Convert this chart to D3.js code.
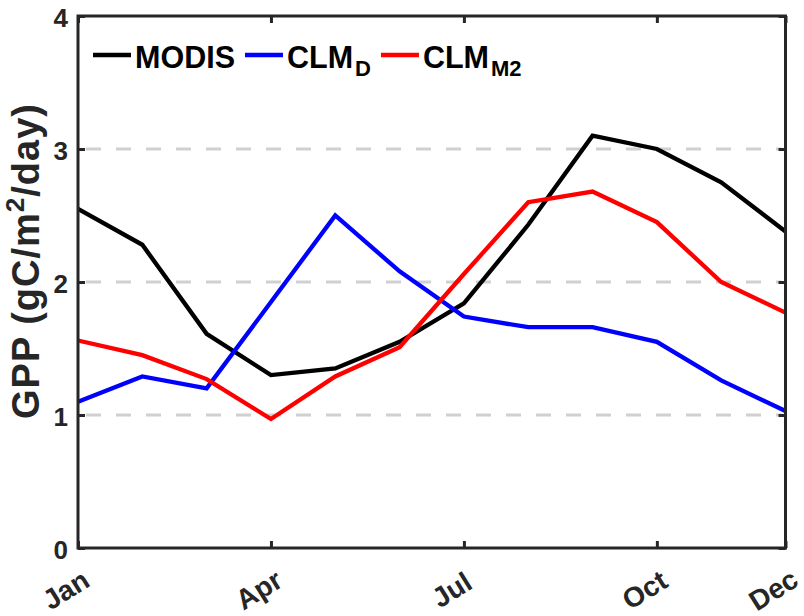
<!DOCTYPE html>
<html>
<head>
<meta charset="utf-8">
<script src="https://cdn.jsdelivr.net/npm/d3@7"></script>
<style>
  html, body { margin: 0; padding: 0; background: #fff; }
  text { font-family: "Liberation Sans", Arial, Helvetica, sans-serif; font-weight: bold; }
</style>
</head>
<body>
<svg id="chart" width="804" height="616"></svg>
<script>
const months = ["Jan","Feb","Mar","Apr","May","Jun","Jul","Aug","Sep","Oct","Nov","Dec"];
const tickMonths = ["Jan","Apr","Jul","Oct","Dec"];
const yTicks = [0, 1, 2, 3, 4];
const gridValues = [1, 2, 3];
const modis = [2.55, 2.28, 1.61, 1.30, 1.35, 1.55, 1.84, 2.43, 3.10, 3.00, 2.75, 2.38];
const clmD  = [1.10, 1.29, 1.20, 1.85, 2.50, 2.08, 1.74, 1.66, 1.66, 1.55, 1.26, 1.03];
const clmM2 = [1.56, 1.45, 1.27, 0.97, 1.29, 1.51, 2.06, 2.60, 2.68, 2.45, 2.00, 1.77];
const seriesNames = ["MODIS", "CLM", "CLM"];
const seriesSubs = ["", "D", "M2"];
const seriesColors = ["#000000", "#0000ff", "#ff0000"];

const svg = d3.select("#chart");
const L = 78, R = 785.5, T = 16, B = 548;
const axisColor = "#262626";

const x = d3.scalePoint().domain(months).range([L, R]);
const y = d3.scaleLinear().domain([0, 4]).range([B, T]);

// grid
svg.append("g").selectAll("line").data(gridValues).join("line")
  .attr("x1", L + 8).attr("x2", R - 4)
  .attr("y1", d => y(d)).attr("y2", d => y(d))
  .attr("stroke", "#d0d0d0").attr("stroke-width", 3)
  .attr("stroke-dasharray", "15,15");

// lines
const line = d3.line().x((d, i) => x(months[i])).y(d => y(d));
const allSeries = [modis, clmD, clmM2];
allSeries.forEach((s, k) => {
  svg.append("path").datum(s)
    .attr("d", line).attr("fill", "none")
    .attr("stroke", seriesColors[k]).attr("stroke-width", 4.3)
    .attr("stroke-linejoin", "miter");
});

// axes (ticks inward, mirrored)
const tl = 7;
const xb = svg.append("g").attr("transform", `translate(0,${B})`)
  .call(d3.axisBottom(x).tickValues(tickMonths).tickSize(-tl).tickFormat(""));
const xt = svg.append("g").attr("transform", `translate(0,${T})`)
  .call(d3.axisTop(x).tickValues(tickMonths).tickSize(-tl).tickFormat(""));
const yl = svg.append("g").attr("transform", `translate(${L},0)`)
  .call(d3.axisLeft(y).tickValues(yTicks).tickSize(-tl).tickFormat(""));
const yr = svg.append("g").attr("transform", `translate(${R},0)`)
  .call(d3.axisRight(y).tickValues(yTicks).tickSize(-tl).tickFormat(""));
[xb, xt, yl, yr].forEach(g => {
  g.select(".domain").remove();
  g.selectAll(".tick line").attr("stroke", axisColor).attr("stroke-width", 3);
});

// frame
svg.append("rect").attr("x", L).attr("y", T).attr("width", R - L).attr("height", B - T)
  .attr("fill", "none").attr("stroke", axisColor).attr("stroke-width", 3);

// y tick labels
svg.append("g").selectAll("text").data(yTicks).join("text")
  .attr("x", L - 10).attr("y", d => y(d) + 2)
  .attr("text-anchor", "end").attr("dominant-baseline", "central")
  .attr("font-size", 26).attr("fill", axisColor)
  .text(d => d);

// x tick labels (rotated)
svg.append("g").selectAll("text").data(tickMonths).join("text")
  .attr("transform", d => `translate(${x(d) - 12},${B + 42}) rotate(-32)`)
  .attr("text-anchor", "middle").attr("dominant-baseline", "central")
  .attr("font-size", 28).attr("fill", axisColor)
  .text(d => d);

// y axis label
const yLab = svg.append("text")
  .attr("transform", `translate(39,261) rotate(-90)`)
  .attr("text-anchor", "middle")
  .attr("font-size", 38).attr("letter-spacing", 1).attr("fill", axisColor);
yLab.append("tspan").text("GPP (gC/m");
yLab.append("tspan").attr("font-size", 26).attr("dy", -15).text("2");
yLab.append("tspan").attr("dy", 15).text("/day)");

// legend
const lg = svg.append("g");
let cx = 93;
const ly = 55;
seriesNames.forEach((name, k) => {
  lg.append("line").attr("x1", cx).attr("x2", cx + 38).attr("y1", ly).attr("y2", ly)
    .attr("stroke", seriesColors[k]).attr("stroke-width", 4.3);
  cx += 42;
  const t = lg.append("text").attr("x", cx).attr("y", 67.5)
    .attr("font-size", 30.5).attr("fill", "#000");
  t.append("tspan").text(name);
  if (seriesSubs[k]) {
    t.append("tspan").attr("font-size", 22).attr("dy", 8).attr("dx", 2).text(seriesSubs[k]);
  }
  cx += t.node().getComputedTextLength() + (seriesSubs[k] ? 2 : 0) + 10;
});
</script>
</body>
</html>
